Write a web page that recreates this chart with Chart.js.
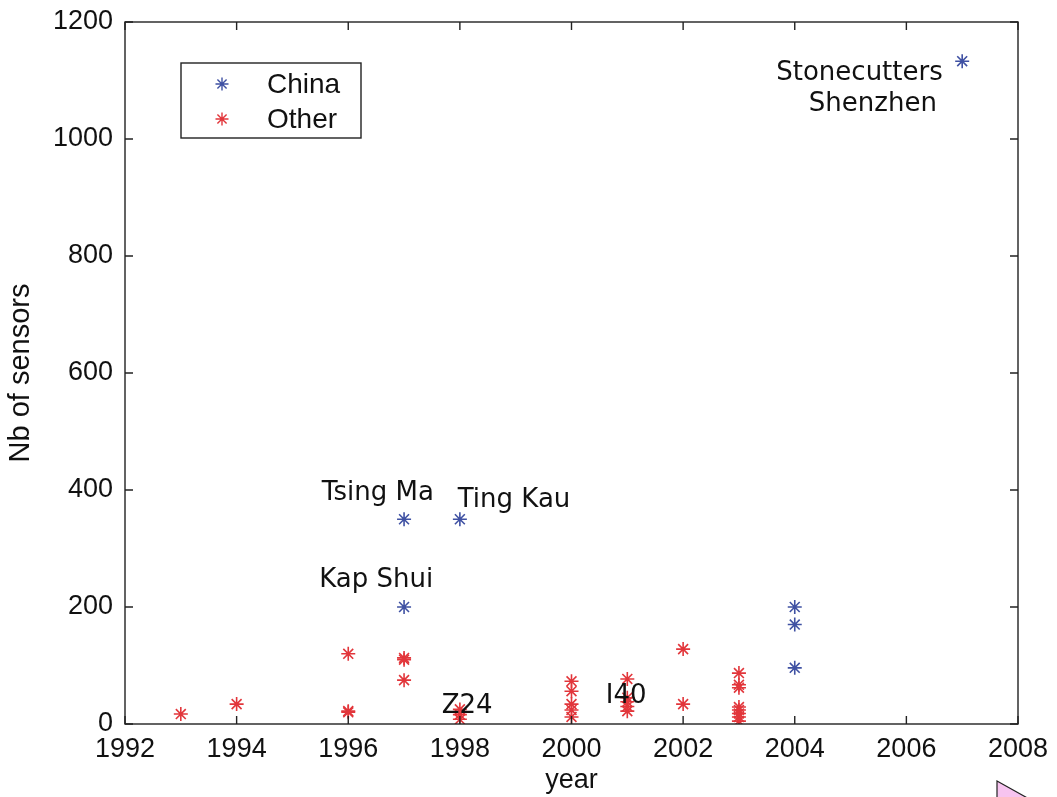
<!DOCTYPE html>
<html>
<head>
<meta charset="utf-8">
<script src="https://cdn.jsdelivr.net/npm/chart.js@4.4.1/dist/chart.umd.min.js"></script>
<style>
html,body{margin:0;padding:0;background:#fff;}
#wrap{width:1057px;height:797px;position:relative;}
</style>
</head>
<body>
<div id="wrap"><canvas id="c" width="1057" height="797"></canvas></div>
<script>
// ---- data ----
const chinaYears  = [1997, 1998, 1997, 2004, 2004, 2004, 2007];
const chinaValues = [350,  350,  200,  200,  170,  96,   1133];

const otherYears  = [1993, 1994, 1996, 1996, 1996, 1997, 1997, 1997, 1998, 1998, 1998,
                     2000, 2000, 2000, 2000, 2000, 2001, 2001, 2001, 2001, 2001,
                     2002, 2002, 2003, 2003, 2003, 2003, 2003, 2003, 2003, 2003];
const otherValues = [17,   34,   120,  22,   20,   113,  110,  75,   25,   16,   8,
                     73,   56,   34,   24,   12,   77,   45,   38,   30,   22,
                     128,  34,   87,   67,   62,   29,   24,   18,   12,   5];

const xTicks = [1992, 1994, 1996, 1998, 2000, 2002, 2004, 2006, 2008];
const yTicks = [0, 200, 400, 600, 800, 1000, 1200];

const noteTexts = ["Tsing Ma", "Ting Kau", "Kap Shui", "Z24", "I40", "Stonecutters", "Shenzhen"];
const noteYears = [1996.53, 1998.97, 1996.5, 1998.13, 2000.98, 2005.16, 2005.4];
const noteVals  = [395, 383, 246, 30, 47, 1113, 1060];

const seriesNames = ["China", "Other"];
const blue = "#3f51a3";
const red = "#e2363b";

const toPts = (xs, ys) => xs.map((x, i) => ({x: x, y: ys[i]}));

const FONT = "'Liberation Sans', Arial, sans-serif";
const NOTE_FONT = "'DejaVu Sans', sans-serif";

const framePlugin = {
  id: 'frame',
  afterDraw(chart) {
    const ctx = chart.ctx, a = chart.chartArea;
    const xs = chart.scales.x, ys = chart.scales.y;
    ctx.save();
    ctx.strokeStyle = '#222';
    ctx.lineWidth = 1.4;
    ctx.strokeRect(a.left, a.top, a.right - a.left, a.bottom - a.top);
    const L = 8;
    ctx.beginPath();
    xTicks.forEach(v => {
      const p = xs.getPixelForValue(v);
      ctx.moveTo(p, a.bottom); ctx.lineTo(p, a.bottom - L);
      ctx.moveTo(p, a.top); ctx.lineTo(p, a.top + L);
    });
    yTicks.forEach(v => {
      const p = ys.getPixelForValue(v);
      ctx.moveTo(a.left, p); ctx.lineTo(a.left + L, p);
      ctx.moveTo(a.right, p); ctx.lineTo(a.right - L, p);
    });
    ctx.stroke();

    // annotations
    ctx.fillStyle = '#111';
    ctx.font = "26px " + NOTE_FONT;
    ctx.textAlign = 'center';
    ctx.textBaseline = 'middle';
    noteTexts.forEach((t, i) => {
      ctx.fillText(t, xs.getPixelForValue(noteYears[i]), ys.getPixelForValue(noteVals[i]));
    });

    // legend box
    const lx = 181, ly = 63, lw = 180, lh = 75;
    ctx.fillStyle = '#fff';
    ctx.fillRect(lx, ly, lw, lh);
    ctx.strokeStyle = '#222';
    ctx.lineWidth = 1.4;
    ctx.strokeRect(lx, ly, lw, lh);
    const colors = [blue, red];
    ctx.font = "28px " + FONT;
    ctx.textAlign = 'left';
    seriesNames.forEach((n, i) => {
      const yy = ly + 21 + i * 35;
      ctx.strokeStyle = colors[i];
      ctx.fillStyle = colors[i];
      ctx.lineWidth = 1.4;
      Chart.helpers.drawPoint(ctx, {pointStyle: 'star', radius: 6.5, borderWidth: 1.4}, 222, yy);
      ctx.fillStyle = '#111';
      ctx.fillText(n, 267, yy + 1);
    });

    // cursor triangle artifact
    ctx.beginPath();
    ctx.moveTo(997, 781);
    ctx.lineTo(1040, 805);
    ctx.lineTo(997, 805);
    ctx.closePath();
    ctx.fillStyle = '#f7c4f0';
    ctx.fill();
    ctx.strokeStyle = '#222';
    ctx.lineWidth = 1.2;
    ctx.stroke();
    ctx.restore();
  }
};

new Chart(document.getElementById('c'), {
  type: 'scatter',
  data: {
    datasets: [
      {label: seriesNames[0], data: toPts(chinaYears, chinaValues), pointStyle: 'star',
       pointRadius: 7, borderColor: blue, backgroundColor: blue, borderWidth: 1.6},
      {label: seriesNames[1], data: toPts(otherYears, otherValues), pointStyle: 'star',
       pointRadius: 7, borderColor: red, backgroundColor: red, borderWidth: 1.6}
    ]
  },
  options: {
    responsive: false,
    animation: false,
    layout: {padding: {top: 22, right: 39, left: 0, bottom: 0}},
    plugins: {legend: {display: false}, tooltip: {enabled: false}},
    scales: {
      x: {
        type: 'linear', min: 1992, max: 2008,
        afterBuildTicks: s => { s.ticks = xTicks.map(v => ({value: v})); },
        afterFit: s => { s.height = 73; s.paddingLeft = 0; s.paddingRight = 0; },
        grid: {display: false, drawTicks: false},
        border: {display: false},
        ticks: {color: '#111', font: {family: FONT, size: 27}, padding: 9, maxRotation: 0,
                callback: v => String(v)},
        title: {display: true, text: 'year', color: '#111', font: {family: FONT, size: 27}, padding: {top: 0, bottom: 0}}
      },
      y: {
        type: 'linear', min: 0, max: 1200,
        afterBuildTicks: s => { s.ticks = yTicks.map(v => ({value: v})); },
        afterFit: s => { s.width = 125; s.paddingTop = 0; s.paddingBottom = 0; },
        grid: {display: false, drawTicks: false},
        border: {display: false},
        ticks: {color: '#111', font: {family: FONT, size: 27}, padding: 12,
                callback: v => String(v)},
        title: {display: true, text: 'Nb of sensors', color: '#111', font: {family: FONT, size: 29}, padding: {top: 4, bottom: 0}}
      }
    }
  }
  ,plugins: [framePlugin]
});
</script>
</body>
</html>
